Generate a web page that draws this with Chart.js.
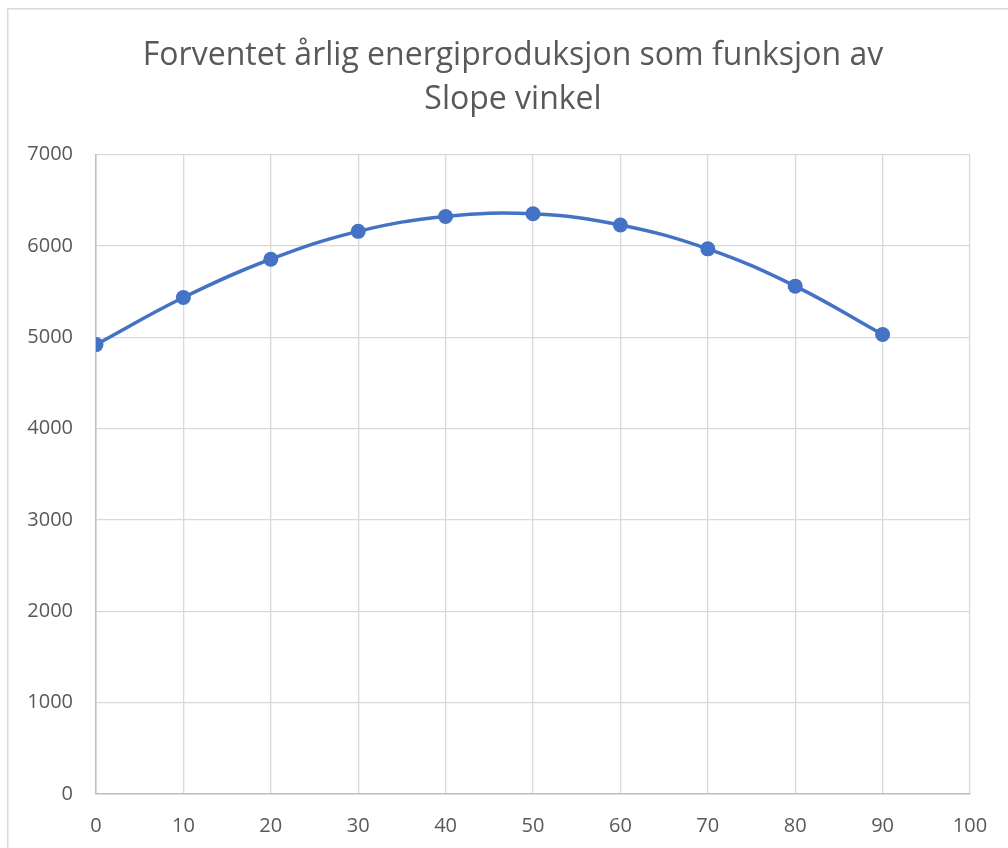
<!DOCTYPE html>
<html lang="no">
<head>
<meta charset="utf-8">
<title>Forventet årlig energiproduksjon</title>
<script src="https://cdn.jsdelivr.net/npm/chart.js@4/dist/chart.umd.min.js"></script>
<style>
  html, body { margin: 0; padding: 0; background: #ffffff; }
  #wrap { position: relative; width: 1008px; height: 848px; }
</style>
</head>
<body>
<div id="wrap"><canvas id="chart" width="1008" height="848"></canvas></div>
<script>
// Slope angle (degrees) and expected yearly energy production
const slopeAngles = [0, 10, 20, 30, 40, 50, 60, 70, 80, 90];
const energyYield = [4920, 5435, 5855, 6160, 6322, 6352, 6230, 5968, 5560, 5030];

// Axis ranges and tick spacing
const xRange = [0, 100];
const xStep = 10;
const yRange = [0, 7000];
const yStep = 1000;

const titleLines = ['Forventet årlig energiproduksjon som funksjon av', 'Slope vinkel'];

const FONT = "'Open Sans', 'Noto Sans', sans-serif";
const TEXT_GREY = '#595959';
const GRID_GREY = '#d9d9d9';
const AXIS_GREY = '#bfbfbf';
const SERIES_BLUE = '#4472c4';

// Light frame around the whole chart object
const frame = {
  id: 'frame',
  beforeDraw(chart) {
    const ctx = chart.ctx;
    ctx.save();
    ctx.fillStyle = '#ffffff';
    ctx.fillRect(0, 0, chart.width, chart.height);
    ctx.strokeStyle = GRID_GREY;
    ctx.lineWidth = 1.5;
    ctx.strokeRect(7.75, 8.75, chart.width + 20, chart.height + 20);
    ctx.restore();
  }
};

// Center the title on the chart frame rather than on the padded layout box
const titleCentering = {
  id: 'titleCentering',
  afterLayout(chart) {
    const tb = chart.titleBlock;
    if (!tb) return;
    const frameCenter = 513;
    const shift = frameCenter - (tb.left + tb.right) / 2;
    tb.left += shift;
    tb.right += shift;
  }
};

const points = slopeAngles.map((a, i) => ({ x: a, y: energyYield[i] }));

new Chart(document.getElementById('chart'), {
  type: 'scatter',
  data: {
    datasets: [{
      data: points,
      showLine: true,
      borderColor: SERIES_BLUE,
      backgroundColor: SERIES_BLUE,
      borderWidth: 3.5,
      tension: 0.4,
      pointRadius: 7.5,
      pointHoverRadius: 7.5,
      pointBorderWidth: 0,
      pointBackgroundColor: SERIES_BLUE
    }]
  },
  options: {
    responsive: false,
    animation: false,
    events: [],
    layout: { padding: { left: 0, right: 38, top: 0, bottom: 0 } },
    plugins: {
      legend: { display: false },
      tooltip: { enabled: false },
      title: {
        display: true,
        text: titleLines,
        color: TEXT_GREY,
        font: { family: FONT, size: 32, weight: 'normal', lineHeight: 1.4 },
        padding: { top: 33, bottom: 32 }
      }
    },
    scales: {
      x: {
        type: 'linear',
        min: xRange[0],
        max: xRange[1],
        border: { display: true, color: AXIS_GREY, width: 1.5 },
        grid: { color: GRID_GREY, lineWidth: 1.3, drawTicks: false },
        ticks: {
          stepSize: xStep,
          padding: 20,
          color: TEXT_GREY,
          font: { family: FONT, size: 20 },
          maxRotation: 0,
          callback: (v) => String(v)
        },
        afterFit(scale) { scale.height = 54; }
      },
      y: {
        type: 'linear',
        min: yRange[0],
        max: yRange[1],
        border: { display: true, color: AXIS_GREY, width: 1.5 },
        grid: { color: GRID_GREY, lineWidth: 1.3, drawTicks: false },
        ticks: {
          stepSize: yStep,
          padding: 23,
          color: TEXT_GREY,
          font: { family: FONT, size: 20 },
          callback: (v) => String(v)
        },
        afterFit(scale) { scale.width = 96; }
      }
    }
  },
  plugins: [frame, titleCentering]
});
</script>
</body>
</html>
